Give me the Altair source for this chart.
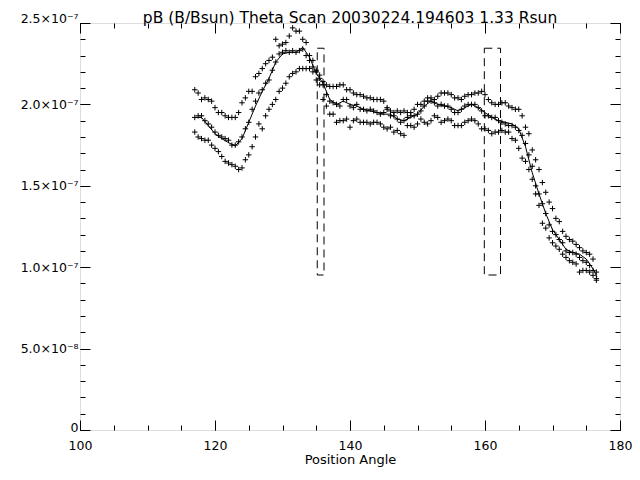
import altair as alt
import pandas as pd

# ---- data (pB in units of 1e-7) ----
angles = [117 + 0.5 * i for i in range(120)]

upper = [2.09, 2.07, 2.03, 2.04, 2.03, 2.02, 1.98, 1.95, 1.95, 1.93,
         1.92, 1.92, 1.92, 1.95, 2.01, 2.04, 2.08, 2.08, 2.17, 2.19,
         2.22, 2.25, 2.27, 2.29, 2.40, 2.36, 2.37, 2.38, 2.42, 2.47,
         2.45, 2.45, 2.40, 2.38, 2.30, 2.27, 2.21, 2.16, 2.12, 2.12,
         2.11, 2.11, 2.11, 2.12, 2.12, 2.09, 2.09, 2.07, 2.06, 2.06,
         2.05, 2.04, 2.04, 2.03, 2.03, 2.03, 2.02, 1.98, 1.96, 1.95,
         1.96, 1.95, 1.96, 1.95, 1.95, 1.97, 2.00, 2.00, 2.02, 2.04,
         2.04, 2.03, 2.05, 2.07, 2.07, 2.07, 2.06, 2.04, 2.04, 2.03,
         2.05, 2.06, 2.06, 2.07, 2.07, 2.08, 2.06, 2.03, 2.01, 2.00,
         2.00, 2.01, 2.01, 1.99, 1.98, 1.97, 1.97, 1.93, 1.86, 1.82,
         1.72, 1.66, 1.60, 1.52, 1.46, 1.40, 1.36, 1.30, 1.28, 1.22,
         1.19, 1.17, 1.16, 1.14, 1.12, 1.10, 1.09, 1.08, 1.05, 0.97]

middle = [1.92, 1.93, 1.93, 1.90, 1.88, 1.86, 1.83, 1.81, 1.80, 1.79,
          1.78, 1.75, 1.75, 1.77, 1.80, 1.85, 1.89, 1.97, 2.02, 2.07,
          2.09, 2.13, 2.15, 2.21, 2.26, 2.31, 2.32, 2.33, 2.32, 2.33,
          2.32, 2.33, 2.34, 2.30, 2.27, 2.23, 2.20, 2.18, 2.14, 2.06,
          2.02, 2.01, 2.00, 1.99, 2.03, 2.03, 1.99, 1.98, 2.00, 1.97,
          1.97, 1.96, 1.97, 1.96, 1.95, 1.94, 1.95, 1.97, 1.93, 1.93,
          1.91, 1.89, 1.90, 1.92, 1.93, 1.93, 1.94, 1.96, 1.99, 2.02,
          2.02, 2.01, 1.99, 2.00, 1.99, 1.99, 1.97, 1.95, 1.95, 1.97,
          1.99, 2.00, 2.00, 2.00, 1.98, 1.96, 1.93, 1.93, 1.92, 1.92,
          1.90, 1.89, 1.88, 1.87, 1.87, 1.86, 1.84, 1.81, 1.76, 1.69,
          1.62, 1.50, 1.45, 1.39, 1.33, 1.26, 1.22, 1.20, 1.17, 1.15,
          1.10, 1.09, 1.09, 1.08, 1.06, 1.04, 1.03, 1.01, 0.98, 0.93]

lower = [1.83, 1.80, 1.79, 1.78, 1.78, 1.75, 1.73, 1.71, 1.68, 1.65,
         1.64, 1.63, 1.62, 1.60, 1.61, 1.66, 1.69, 1.74, 1.80, 1.88,
         1.85, 1.93, 1.97, 2.00, 2.03, 2.08, 2.10, 2.13, 2.17, 2.19,
         2.20, 2.22, 2.22, 2.22, 2.22, 2.20, 2.15, 2.12, 2.03, 1.99,
         1.94, 1.94, 1.89, 1.90, 1.90, 1.91, 1.86, 1.90, 1.91, 1.89,
         1.89, 1.89, 1.88, 1.89, 1.89, 1.88, 1.86, 1.85, 1.86, 1.83,
         1.84, 1.82, 1.81, 1.87, 1.87, 1.86, 1.88, 1.91, 1.89, 1.88,
         1.90, 1.93, 1.92, 1.89, 1.90, 1.91, 1.90, 1.87, 1.87, 1.87,
         1.89, 1.90, 1.91, 1.90, 1.88, 1.85, 1.85, 1.84, 1.82, 1.83,
         1.83, 1.84, 1.83, 1.83, 1.79, 1.78, 1.73, 1.67, 1.65, 1.60,
         1.54, 1.45, 1.38, 1.27, 1.24, 1.18, 1.15, 1.13, 1.11, 1.08,
         1.06, 1.04, 1.03, 1.02, 0.97, 0.98, 0.98, 0.97, 0.95, 0.92]

line_angles = list(range(117, 177)) + [176.6]
smooth = [1.92, 1.92, 1.87, 1.82, 1.79, 1.765, 1.745, 1.79, 1.89, 1.99,
          2.08, 2.16, 2.26, 2.31, 2.32, 2.32, 2.35, 2.29, 2.19, 2.13,
          2.03, 2.00, 2.02, 2.00, 1.99, 1.97, 1.96, 1.95, 1.94, 1.94,
          1.91, 1.90, 1.92, 1.94, 1.99, 2.02, 2.00, 1.99, 1.98, 1.96,
          1.98, 2.00, 1.98, 1.95, 1.92, 1.90, 1.89, 1.88, 1.85, 1.74,
          1.58, 1.45, 1.33, 1.23, 1.17, 1.11, 1.09, 1.08, 1.05, 0.99,
          0.94]

box_x1 = [135.15, 159.9]
box_x2 = [136.15, 162.3]
box_y1 = [0.952, 0.952]
box_y2 = [2.345, 2.345]

title_text = "pB (B/Bsun) Theta Scan 20030224.194603 1.33 Rsun"
x_major = [100, 120, 140, 160, 180]
x_minor = list(range(100, 181, 5))
y_major = [0, 0.5e-7, 1.0e-7, 1.5e-7, 2.0e-7, 2.5e-7]
y_minor = [i * 1e-8 for i in range(0, 26)]

S = 1e-7
pts = pd.DataFrame({
    "angle": angles * 3,
    "pB": [v * S for v in upper + middle + lower],
})
ln = pd.DataFrame({"angle": line_angles, "pB": [v * S for v in smooth]})
boxes = pd.DataFrame({"x1": box_x1, "x2": box_x2,
                      "y1": [v * S for v in box_y1], "y2": [v * S for v in box_y2]})

FONT = "DejaVu Sans"
xs = alt.Scale(domain=[100, 180], nice=False, zero=False)
ys = alt.Scale(domain=[0, 2.5e-7], nice=False, zero=False)

def tick_axis(orient, values, size):
    return alt.Axis(orient=orient, values=values, labels=False, domain=False,
                    grid=False, ticks=True, tickSize=size, offset=-size,
                    tickColor="black", tickWidth=1, title=None)

label_expr = ("datum.value == 0 ? '0' : (datum.value < 0.75e-7 ? "
              "format(datum.value*1e8, '.1f') + '×10⁻⁸' : "
              "format(datum.value*1e7, '.1f') + '×10⁻⁷')")

x_label_axis = alt.Axis(orient="bottom", values=x_major, ticks=False, domain=False,
                        grid=False, labelFont=FONT, labelFontSize=12.5,
                        labelColor="black", labelPadding=9, labelFlush=False,
                        title="Position Angle", titleFont=FONT, titleFontSize=13,
                        titleFontWeight="normal", titleColor="black", titlePadding=2)
y_label_axis = alt.Axis(orient="left", values=y_major, ticks=False, domain=False,
                        grid=False, labelFont=FONT, labelFontSize=12.5,
                        labelColor="black", labelPadding=2, labelExpr=label_expr,
                        labelFlush=False,
                        labelOffset={"condition": [
                            {"test": "datum.value > 2.4e-7", "value": -5},
                            {"test": "datum.value < 1e-9", "value": -3}],
                            "value": 0},
                        title=None)

cross = "M-1,0L1,0M0,-1L0,1"

points = alt.Chart(pts).mark_point(shape=cross, filled=False, color="black",
                                   strokeWidth=1, size=30, opacity=1).encode(
    x=alt.X("angle:Q", scale=xs, axis=x_label_axis),
    y=alt.Y("pB:Q", scale=ys, axis=y_label_axis),
)

line = alt.Chart(ln).mark_line(color="black", strokeWidth=1).encode(
    x=alt.X("angle:Q", scale=xs, axis=tick_axis("bottom", x_major, 10)),
    y=alt.Y("pB:Q", scale=ys, axis=tick_axis("left", y_major, 10)),
)

rects = alt.Chart(boxes).mark_rect(fillOpacity=0, stroke="black", strokeWidth=1,
                                   strokeDash=[8, 5]).encode(
    x=alt.X("x1:Q", scale=xs, axis=tick_axis("bottom", x_minor, 5)),
    x2="x2:Q",
    y=alt.Y("y1:Q", scale=ys, axis=tick_axis("left", y_minor, 5)),
    y2="y2:Q",
)

ghost1 = alt.Chart(ln).mark_point(opacity=0).encode(
    x=alt.X("angle:Q", scale=xs, axis=tick_axis("top", x_major, 10)),
    y=alt.Y("pB:Q", scale=ys, axis=tick_axis("right", y_major, 10)),
)
ghost2 = alt.Chart(ln).mark_point(opacity=0).encode(
    x=alt.X("angle:Q", scale=xs, axis=tick_axis("top", x_minor, 5)),
    y=alt.Y("pB:Q", scale=ys, axis=tick_axis("right", y_minor, 5)),
)

chart = alt.layer(points, line, rects, ghost1, ghost2).resolve_scale(
    x="shared", y="shared"
).resolve_axis(
    x="independent", y="independent"
).properties(
    width=540, height=407,
    padding={"left": 72, "top": 15, "right": 12, "bottom": 42},
    autosize=alt.AutoSizeParams(type="none"),
    title=alt.TitleParams(text=title_text, font=FONT, fontSize=15.5,
                          fontWeight="normal", color="black", anchor="middle",
                          frame="group", baseline="alphabetic", offset=-26),
).configure_view(
    stroke="black", strokeWidth=1
).configure(background="white")

chart.save("out.html", embed_options={"renderer": "svg", "actions": False})
